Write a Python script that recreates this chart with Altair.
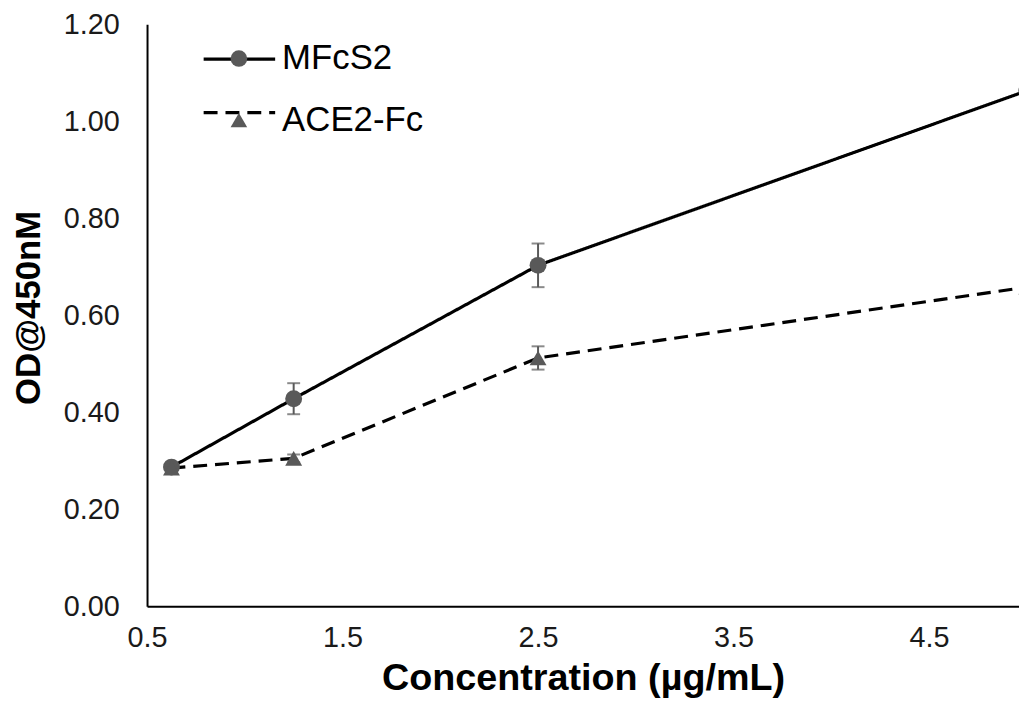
import altair as alt
import pandas as pd

# ---- data ----
conc = [0.625, 1.25, 2.5, 5.0]
mfcs2 = [0.287, 0.428, 0.703, 1.063]
mfcs2_err = [0.0, 0.032, 0.045, 0.0]
ace2 = [0.285, 0.305, 0.512, 0.658]
ace2_err = [0.0, 0.008, 0.024, 0.0]
series_names = ["MFcS2", "ACE2-Fc"]
line_keys = ["line-1", "line-2"]
y_ticks = [0.0, 0.2, 0.4, 0.6, 0.8, 1.0, 1.2]
x_ticks = [0.5, 1.5, 2.5, 3.5, 4.5]

rows = []
for name, key, vals, errs in [(series_names[0], line_keys[0], mfcs2, mfcs2_err),
                              (series_names[1], line_keys[1], ace2, ace2_err)]:
    for c, v, e in zip(conc, vals, errs):
        rows.append({"conc": c, "od": v, "err": e, "series": name, "lkey": key,
                     "lo": v - e, "hi": v + e})
df = pd.DataFrame(rows)

FONT = "Liberation Sans"
GRAY = "#595959"

x_enc = alt.X("conc:Q", scale=alt.Scale(domain=[0.5, 4.96], nice=False, zero=False),
              axis=alt.Axis(values=x_ticks, format=".1f", title="Concentration (µg/mL)",
                            titleY=84, titleBaseline="alphabetic", labelPadding=18,
                            labelFlush=False, titleFontSize=38))
y_enc = alt.Y("od:Q", scale=alt.Scale(domain=[0, 1.2], nice=False),
              axis=alt.Axis(values=y_ticks, format=".2f", title="OD@450nM",
                            titleX=-119, titleY=285, titleBaseline="middle",
                            titleAngle=270, labelPadding=28, labelFlush=False))

base = alt.Chart(df)

# line legend: stroke symbols only (wide custom path)
lines = base.mark_line(color="black", strokeWidth=3.2, clip=True).encode(
    x=x_enc, y=y_enc,
    strokeDash=alt.StrokeDash(
        "lkey:N",
        scale=alt.Scale(domain=line_keys, range=[[1, 0], [14, 8]]),
        legend=alt.Legend(title=None, orient="none", legendX=79, legendY=21,
                          symbolType="M-3,0H3", symbolSize=576, symbolStrokeWidth=3.2,
                          symbolStrokeColor="black", symbolFillColor="transparent",
                          rowPadding=33, labelExpr="''", labelFontSize=1,
                          labelOffset=0, padding=0, zindex=1),
    ),
)

errs = base.transform_filter("datum.err > 0")
err_rule = errs.mark_rule(color=GRAY, strokeWidth=2).encode(
    x="conc:Q", y="lo:Q", y2="hi:Q")
err_lo = errs.mark_tick(color=GRAY, orient="horizontal", size=13, thickness=2).encode(
    x="conc:Q", y="lo:Q")
err_hi = errs.mark_tick(color=GRAY, orient="horizontal", size=13, thickness=2).encode(
    x="conc:Q", y="hi:Q")

# marker legend: markers + labels
points = base.mark_point(filled=True, opacity=1, color=GRAY, size=290, clip=True).encode(
    x="conc:Q", y="od:Q",
    shape=alt.Shape(
        "series:N",
        scale=alt.Scale(domain=series_names, range=["circle", "triangle-up"]),
        legend=alt.Legend(title=None, orient="none", legendX=75, legendY=17,
                          symbolSize=280, symbolFillColor=GRAY, symbolStrokeColor=GRAY,
                          symbolStrokeWidth=0, rowPadding=26,
                          labelFont=FONT, labelFontSize=35, labelColor="black",
                          labelOffset=26, padding=0, zindex=2),
    ),
)

chart = alt.layer(lines, err_rule, err_lo, err_hi, points).properties(
    width=878, height=586,
    autosize=alt.AutoSizeParams(type="none"),
    padding={"left": 140, "top": 14, "right": 0, "bottom": 97},
    background="white",
).configure_view(stroke=None).configure_axis(
    domainColor="black", domainWidth=2, ticks=False, grid=False,
    labelFont=FONT, labelFontSize=29, labelColor="#1a1a1a",
    titleFont=FONT, titleFontSize=35, titleFontWeight="bold", titleColor="black",
)

chart.save("out.html", embed_options={"renderer": "svg", "actions": False})
